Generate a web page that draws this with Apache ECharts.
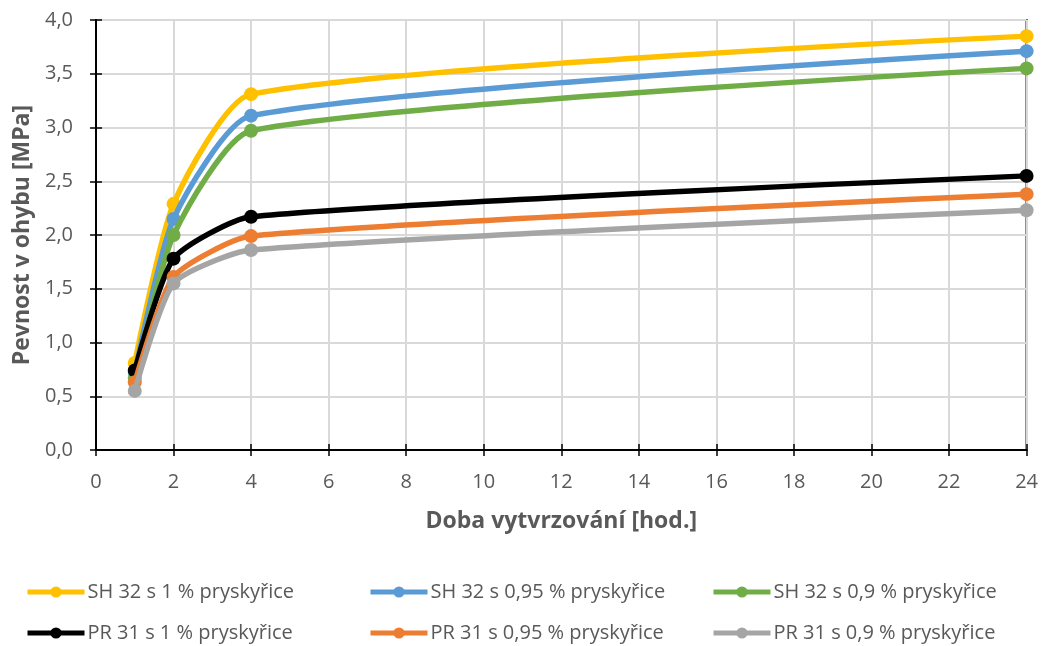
<!DOCTYPE html>
<html>
<head>
<meta charset="utf-8">
<script src="https://cdn.jsdelivr.net/npm/echarts@6/dist/echarts.min.js"></script>
<style>html,body{margin:0;padding:0;background:#fff;}#c{width:1041px;height:646px;}</style>
</head>
<body>
<div id="c"></div>
<script>
const hours = [1, 2, 4, 24];
const seriesNames = [
  'SH 32 s 1 % pryskyřice',
  'SH 32 s 0,95 % pryskyřice',
  'SH 32 s 0,9 % pryskyřice',
  'PR 31 s 1 % pryskyřice',
  'PR 31 s 0,95 % pryskyřice',
  'PR 31 s 0,9 % pryskyřice'
];
const sh32_1 = [0.81, 2.29, 3.31, 3.85];
const sh32_095 = [0.72, 2.15, 3.11, 3.71];
const sh32_09 = [0.67, 2.00, 2.97, 3.55];
const pr31_1 = [0.74, 1.78, 2.17, 2.55];
const pr31_095 = [0.63, 1.61, 1.99, 2.38];
const pr31_09 = [0.55, 1.55, 1.86, 2.23];
const colors = ['#FFC000', '#5B9BD5', '#70AD47', '#000000', '#ED7D31', '#A5A5A5'];
const values = [sh32_1, sh32_095, sh32_09, pr31_1, pr31_095, pr31_09];

const FONT = 'Open Sans';
const TXT = '#595959';

const series = values.map((v, i) => ({
  name: seriesNames[i],
  type: 'line',
  data: hours.map((h, j) => [h, v[j]]),
  smooth: 0.2,
  symbol: 'circle',
  symbolSize: 14,
  lineStyle: { width: 5.5, color: colors[i] },
  itemStyle: { color: colors[i] },
  z: 2 + i
}));

const legendPos = [
  { left: 25, top: 582 }, { left: 368, top: 582 }, { left: 711, top: 582 },
  { left: 25, top: 623 }, { left: 368, top: 623 }, { left: 711, top: 623 }
];
const legends = seriesNames.map((n, i) => ({
  data: [n],
  left: legendPos[i].left,
  top: legendPos[i].top,
  itemWidth: 57,
  itemHeight: 14,
  itemGap: 4,
  padding: 0,
  lineStyle: { width: 5 },
  textStyle: { fontFamily: FONT, fontSize: 20, color: TXT, padding: [0, 0, 0, -2] }
}));

const chart = echarts.init(document.getElementById('c'), null, { renderer: 'canvas' });
chart.setOption({
  animation: false,
  backgroundColor: '#fff',
  color: colors,
  legend: legends,
  grid: { left: 96, right: 13, top: 20, bottom: 196, show: true, borderColor: '#000', borderWidth: 2, containLabel: false },
  xAxis: [{
    type: 'value', min: 0, max: 24, interval: 2,
    name: 'Doba vytvrzování [hod.]', nameLocation: 'middle', nameGap: 60,
    nameTextStyle: { fontFamily: FONT, fontSize: 23, fontWeight: 'bold', color: TXT },
    axisLine: { show: true, lineStyle: { color: '#000', width: 2 } },
    axisTick: { show: true, length: 6, lineStyle: { color: '#000', width: 1.5 } },
    axisLabel: { fontFamily: FONT, fontSize: 20, color: TXT, margin: 22 },
    splitLine: { show: true, lineStyle: { color: '#D9D9D9', width: 2 } }
  }, {
    type: 'value', min: 0, max: 24, interval: 2, position: 'bottom',
    axisLine: { show: false },
    axisTick: { show: true, inside: true, length: 6, lineStyle: { color: '#000', width: 1.5 } },
    axisLabel: { show: false }, splitLine: { show: false }
  }],
  yAxis: [{
    type: 'value', min: 0, max: 4, interval: 0.5,
    name: 'Pevnost v ohybu [MPa]', nameLocation: 'middle', nameGap: 56, nameRotate: 90,
    nameTextStyle: { fontFamily: FONT, fontSize: 23, fontWeight: 'bold', color: TXT },
    axisLine: { show: true, lineStyle: { color: '#000', width: 2 } },
    axisTick: { show: true, length: 6, lineStyle: { color: '#000', width: 1.5 } },
    axisLabel: { fontFamily: FONT, fontSize: 20, color: TXT, margin: 23,
      formatter: v => v.toFixed(1).replace('.', ',') },
    splitLine: { show: true, lineStyle: { color: '#D9D9D9', width: 2 } }
  }, {
    type: 'value', min: 0, max: 4, interval: 0.5, position: 'left',
    axisLine: { show: false },
    axisTick: { show: true, inside: true, length: 6, lineStyle: { color: '#000', width: 1.5 } },
    axisLabel: { show: false }, splitLine: { show: false }
  }],
  series: series
});
</script>
</body>
</html>
